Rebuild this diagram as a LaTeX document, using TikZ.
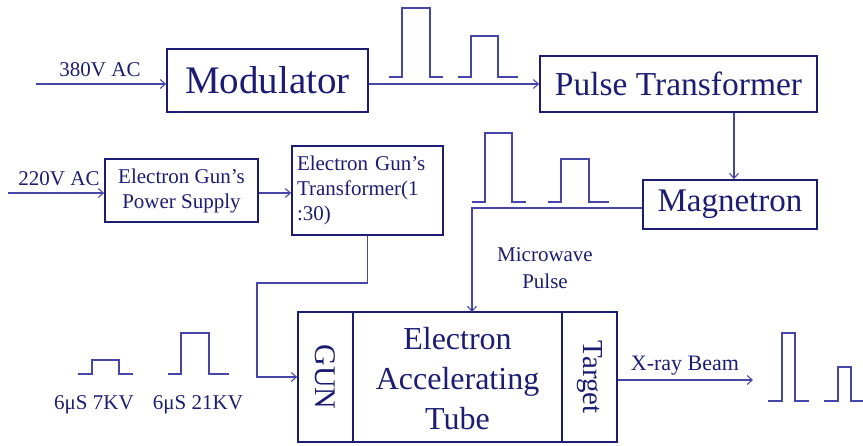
\documentclass[tikz,border=0pt]{standalone}
\usepackage{fontspec}
\setmainfont{Liberation Serif}
\usetikzlibrary{arrows.meta,calc}
\definecolor{navy}{HTML}{1C1C72}
\definecolor{wire}{HTML}{4646A8}
\tikzset{
  blk/.style={draw=navy,line width=1.8pt,text=navy,inner sep=0pt,anchor=center},
  lbl/.style={text=navy,inner sep=0pt,anchor=center},
  wireln/.style={draw=wire,line width=1.1pt},
  arr/.style={wireln,-{Straight Barb[length=5pt,width=9pt]}},
  pulse/.style={draw=wire,line width=1.1pt}
}
\begin{document}
\begin{tikzpicture}[x=1pt,y=-1pt]
\useasboundingbox (0,0) rectangle (863,445);
% boxes
\node[blk,minimum width=201pt,minimum height=63pt,font=\fontsize{39}{42}\selectfont] (mod) at (267.5,80.5) {Modulator};
\node[blk,minimum width=277pt,minimum height=56pt,font=\fontsize{33.5}{36}\selectfont] (pt) at (678.5,84) {Pulse Transformer};
\node[blk,minimum width=174pt,minimum height=49pt,font=\fontsize{33}{36}\selectfont] (mag) at (730,204.5) {Magnetron};
\node[blk,minimum width=153pt,minimum height=63pt,align=center,font=\fontsize{21}{25}\selectfont] (egps) at (181.5,190.5) {Electron Gun's\\Power Supply};
\node[blk,minimum width=151pt,minimum height=89pt,align=left,text width=141pt,font=\fontsize{21}{25}\selectfont] (egt) at (367.5,190.5) {Electron Gun's\\Transformer(1\\:30)};
\node[blk,minimum width=55pt,minimum height=130pt] (gun) at (325.5,377) {};
\node[lbl,rotate=-90,font=\fontsize{30}{32}\selectfont] at (gun) {GUN};
\node[blk,minimum width=209pt,minimum height=130pt] (mid) at (457.5,377) {};
\node[lbl,align=center,font=\fontsize{32}{40}\selectfont] at (457.5,379) {Electron\\Accelerating\\Tube};
\node[blk,minimum width=55pt,minimum height=130pt] (tgt) at (589.5,377) {};
\node[lbl,rotate=-90,font=\fontsize{29}{32}\selectfont] at (tgt) {Target};
% labels
\node[lbl,font=\fontsize{21}{24}\selectfont] (l380) at (100,70) {380V AC};
\node[lbl,font=\fontsize{21}{24}\selectfont] (l220) at (59,179) {220V AC};
\node[lbl,align=center,font=\fontsize{21}{27}\selectfont] (lmw) at (545,268) {Microwave\\Pulse};
\node[lbl,font=\fontsize{22}{24}\selectfont] (lxr) at (685,366) {X-ray Beam};
\node[lbl,font=\fontsize{21}{24}\selectfont] (l7) at (94,405) {6μS 7KV};
\node[lbl,font=\fontsize{21}{24}\selectfont] (l21) at (198,405) {6μS 21KV};
% coordinates
\coordinate (in380) at (36,84);
\coordinate (in220) at (8,193);
\coordinate (tubein) at (472,312);
\coordinate (k1) at (257,283);
\coordinate (xend) at (753,380);
\coordinate (magw) at ($(mag.west)+(0,3.5)$);
\coordinate (magn) at ($(mag.north)+(4,0)$);
% connectors
\draw[arr] (in380) -- (in380 -| mod.west);
\draw[arr] (mod.east |- pt.west) -- (pt.west);
\draw[arr] (pt.south -| magn) -- (magn);
\draw[arr] (magw) -| (tubein);
\draw[arr] (in220) -- (in220 -| egps.west);
\draw[arr] (egps.east |- in220) -- (in220 -| egt.west);
\draw[arr] (egt.south) |- (k1) |- (gun.west);
\draw[arr] (xend -| tgt.east) -- (xend);
% pulses
\draw[pulse] (389,77) -- (402,77) -- (402,8) -- (430,8) -- (430,77) -- (443,77);
\draw[pulse] (458,77) -- (471,77) -- (471,36) -- (498,36) -- (498,77) -- (518,77);
\draw[pulse] (472,202) -- (485,202) -- (485,133) -- (512,133) -- (512,202) -- (526,202);
\draw[pulse] (548,202) -- (561,202) -- (561,159) -- (589,159) -- (589,202) -- (609,202);
\draw[pulse] (78,374) -- (92,374) -- (92,360) -- (119,360) -- (119,374) -- (133,374);
\draw[pulse] (168,374) -- (181,374) -- (181,333) -- (209,333) -- (209,374) -- (229,374);
\draw[pulse] (768,401) -- (782,401) -- (782,333) -- (795,333) -- (795,401) -- (809,401);
\draw[pulse] (824,401) -- (838,401) -- (838,367) -- (851,367) -- (851,401) -- (863,401);
\end{tikzpicture}
\end{document}
